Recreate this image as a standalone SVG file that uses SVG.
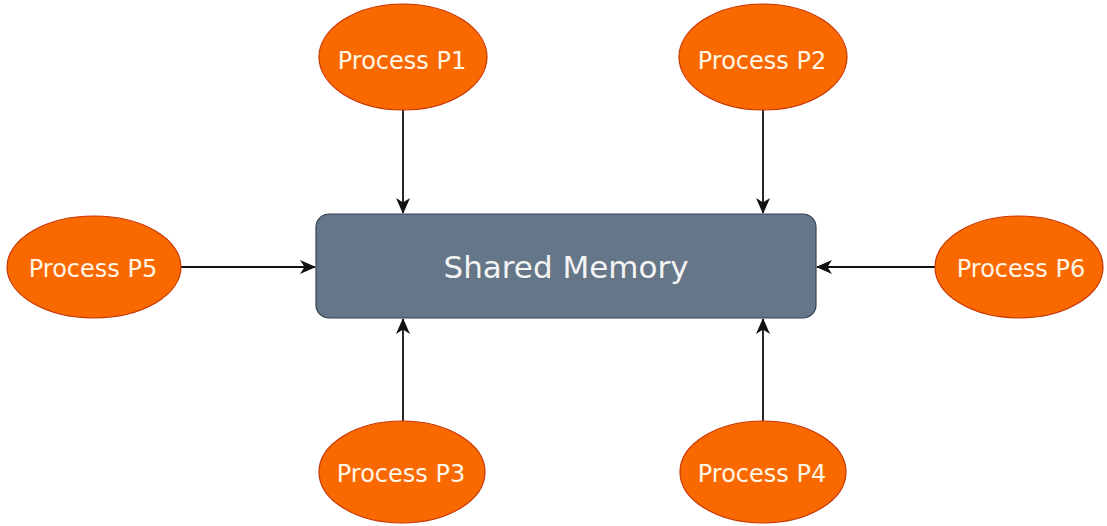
<svg xmlns="http://www.w3.org/2000/svg" width="1107" height="526" viewBox="0 0 1107 526">
<style>
.proc ellipse{fill:#fa6800;stroke:#c73500;stroke-width:1.2}
.proc text{fill:#fff6e6;font-family:"DejaVu Sans",Verdana,sans-serif;font-size:24px;text-anchor:middle;dominant-baseline:central}
.mem rect{fill:#647687;stroke:#314354;stroke-width:1.2}
.mem text{fill:#f4f4f4;font-family:"DejaVu Sans",Verdana,sans-serif;font-size:31px;text-anchor:middle;dominant-baseline:central}
.conn line{stroke:#111;stroke-width:1.8;marker-end:url(#arr)}
</style>
<defs>
<marker id="arr" markerWidth="16" markerHeight="16" refX="15" refY="8" orient="auto" markerUnits="userSpaceOnUse">
<path d="M0,1 L16,8 L0,15 L4.5,8 Z" fill="#111"/>
</marker>
</defs>
<rect width="1107" height="526" fill="#fff"/>
<g class="conn">
<line x1="403" y1="110" x2="403" y2="213"/>
<line x1="763" y1="110" x2="763" y2="213"/>
<line x1="180" y1="267" x2="315" y2="267"/>
<line x1="935" y1="267" x2="817" y2="267"/>
<line x1="403" y1="421" x2="403" y2="319"/>
<line x1="763" y1="421" x2="763" y2="319"/>
</g>
<g id="shared-memory" class="mem">
<rect x="316" y="214" width="500" height="104" rx="13"/>
<text x="566" y="267">Shared Memory</text>
</g>
<g id="p1" class="proc"><ellipse cx="403" cy="57" rx="84" ry="53"/><text x="402" y="61">Process P1</text></g>
<g id="p2" class="proc"><ellipse cx="763" cy="57" rx="84" ry="53"/><text x="762" y="61">Process P2</text></g>
<g id="p5" class="proc"><ellipse cx="94" cy="267" rx="87" ry="51"/><text x="93" y="269">Process P5</text></g>
<g id="p6" class="proc"><ellipse cx="1019" cy="267" rx="84" ry="51"/><text x="1021" y="269">Process P6</text></g>
<g id="p3" class="proc"><ellipse cx="402" cy="472" rx="83" ry="51"/><text x="401" y="474">Process P3</text></g>
<g id="p4" class="proc"><ellipse cx="763" cy="472" rx="83" ry="51"/><text x="762" y="474">Process P4</text></g>
</svg>
